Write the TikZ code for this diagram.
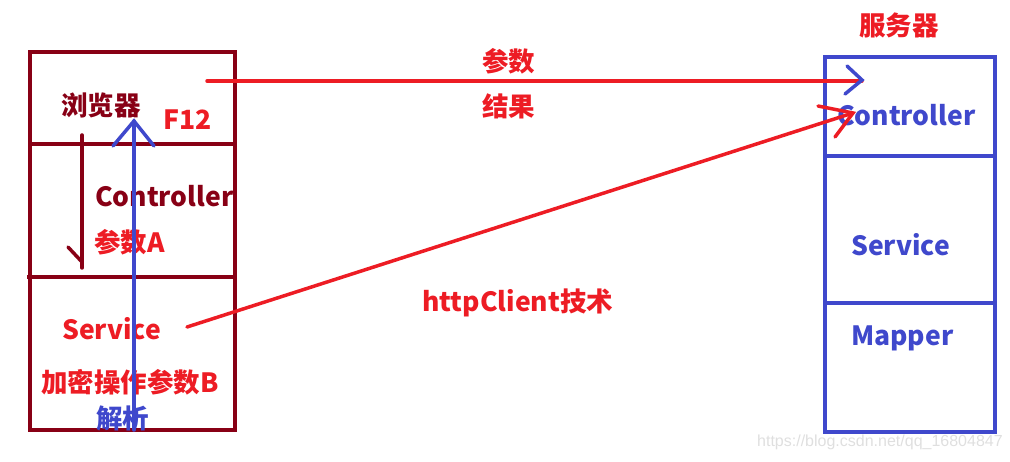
\documentclass[tikz,border=0pt]{standalone}
\usepackage{fontspec}
\setmainfont{Noto Sans CJK SC}
\newfontfamily\wmfont{Liberation Sans}
\usetikzlibrary{positioning,calc}
\definecolor{maroon}{HTML}{880015}
\definecolor{pred}{HTML}{ED1C24}
\definecolor{pblue}{HTML}{3F48CC}

\begin{document}
\begin{tikzpicture}[x=1pt,y=-1pt,
  lbl/.style={font=\bfseries\fontsize{26.5}{28}\selectfont,inner sep=0pt,anchor=west},
  lbox/.style={draw=maroon,line width=4pt},
  rbox/.style={draw=pblue,line width=4pt},
  stroke/.style={line width=3.5pt,line cap=round}]
\useasboundingbox (0,0) rectangle (1010,462);

% client side
\draw[lbox] (30,52) rectangle (235,430);
\draw[lbox] (30,144) -- (235,144);
\draw[lbox] (27,277) -- (235,277);

\node[lbl,text=maroon] (browser) at (61,105) {浏览器};
\node[lbl,text=pred] (f12) at (163,120) {F12};
\node[lbl,text=maroon] (ctrlA) at (95,196) {Controller};
\node[lbl,text=pred] (paramA) at (94,242) {参数A};
\node[lbl,text=pred] (servA) at (62,329) {Service};
\node[lbl,text=pred] (encB) at (41,382) {加密操作参数B};
\node[lbl,text=pblue] (parse) at (96,418) {解析};

% server side
\draw[rbox] (825,57) rectangle (995,432);
\draw[rbox] (825,156) -- (995,156);
\draw[rbox] (825,303) -- (995,303);

\node[lbl,text=pred] (server) at (859,25) {服务器};
\node[lbl,text=pblue] (ctrlB) at (837,115) {Controller};
\node[lbl,text=pblue] (servB) at (851,245) {Service};
\node[lbl,text=pblue] (mapper) at (851,338) {Mapper};

% labels in between
\node[lbl,text=pred] (param) at (482,61) {参数};
\node[lbl,text=pred] (result) at (482,106) {结果};
\node[lbl,text=pred] (http) at (422,303) {httpClient技术};

% connectors
\coordinate (d1) at (82,135);
\coordinate (d2) at (82,268);
\draw[stroke,maroon] (d1) -- (d2);
\draw[stroke,maroon] (82,262) -- ++(-14,-15);

\coordinate (u1) at (134,430);
\coordinate (u2) at (134,121);
\draw[stroke,pblue] (u1) -- (u2);
\draw[stroke,pblue] (113,146) -- (u2) -- (154,146);

\coordinate (h1) at (207,81);
\coordinate (h2) at (862,81);
\draw[stroke,pred] (h1) -- (h2);
\draw[stroke,pblue] (847,66) -- (862,80) -- (845,94);

\coordinate (s1) at (187,327);
\coordinate (s2) at (853,113);
\draw[stroke,pred] (s1) -- (s2);
\draw[stroke,pred] (818,106) -- (s2) -- (835,137);

\node[font=\wmfont\fontsize{16}{18}\selectfont,text=gray!25,inner sep=0pt,anchor=west] (mark) at (757,442) {https://blog.csdn.net/qq\_16804847};
\end{tikzpicture}
\end{document}
